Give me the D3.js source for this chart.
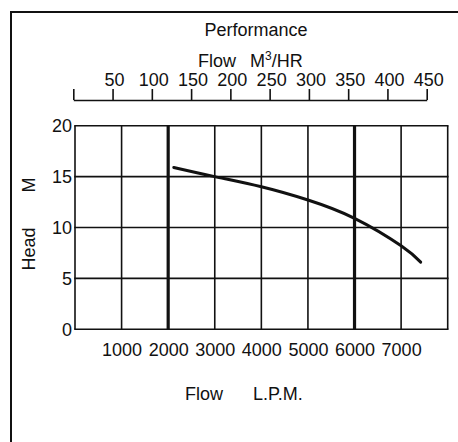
<!DOCTYPE html>
<html>
<head>
<meta charset="utf-8">
<script src="https://cdn.jsdelivr.net/npm/d3@7"></script>
<style>
  body { margin: 0; background: #fff; }
  svg { display: block; }
  text { font-family: "Liberation Sans", Arial, sans-serif; fill: #111; }
</style>
</head>
<body>
<svg id="chart" width="458" height="442"></svg>
<script>
// Data
const flowLpm = [2120, 3000, 4000, 5000, 6000, 7000, 7420];
const headM = [15.9, 15.0, 14.0, 12.7, 10.9, 8.2, 6.6];

const lpmTicks = [1000, 2000, 3000, 4000, 5000, 6000, 7000];
const lpmGrid = [0, 1000, 2000, 3000, 4000, 5000, 6000, 7000, 8000];
const lpmHeavy = [2000, 6000];
const headTicks = [0, 5, 10, 15, 20];
const m3hrTicks = [0, 50, 100, 150, 200, 250, 300, 350, 400, 450];

const FONT_PX = 18;

function draw() {
  const svg = d3.select('#chart');

  // Frame: only top and left edges are visible
  svg.append('path')
      .attr('d', 'M11,442V12H458')
      .attr('fill', 'none')
      .attr('stroke', '#111')
      .attr('stroke-width', 2);

  const x = d3.scaleLinear().domain([0, 8000]).range([75, 447.7]);
  const y = d3.scaleLinear().domain([0, 20]).range([329.3, 125.7]);
  const xTop = d3.scaleLinear().domain([0, 450]).range([73.3, 426.7]);

  // Grid
  const grid = svg.append('g');
  grid.selectAll('line.v')
    .data(lpmGrid)
    .join('line')
      .attr('class', 'v')
      .attr('x1', d => x(d)).attr('x2', d => x(d))
      .attr('y1', y(0)).attr('y2', y(20))
      .attr('stroke', '#111')
      .attr('stroke-width', d => lpmHeavy.includes(d) ? 3.2 : 1.6);
  grid.selectAll('line.h')
    .data(headTicks)
    .join('line')
      .attr('class', 'h')
      .attr('x1', x(0) - 0.8).attr('x2', x(8000) + 0.8)
      .attr('y1', d => y(d)).attr('y2', d => y(d))
      .attr('stroke', '#111')
      .attr('stroke-width', 1.6);

  // Left axis labels
  const left = svg.append('g')
      .attr('transform', 'translate(' + x(0) + ',0)')
      .call(d3.axisLeft(y).tickValues(headTicks).tickSize(0).tickPadding(3));
  left.select('.domain').remove();
  left.selectAll('text')
      .attr('font-size', FONT_PX)
      .style('font-family', '"Liberation Sans", Arial, sans-serif')
      .attr('fill', '#111');

  // Bottom axis labels
  const bottom = svg.append('g')
      .attr('transform', 'translate(0,' + y(0) + ')')
      .call(d3.axisBottom(x).tickValues(lpmTicks).tickSize(0).tickPadding(14)
        .tickFormat(d3.format('d')));
  bottom.select('.domain').remove();
  bottom.selectAll('text')
      .attr('font-size', FONT_PX)
      .style('font-family', '"Liberation Sans", Arial, sans-serif')
      .attr('fill', '#111');

  // Top axis in M3/HR
  const top = svg.append('g')
      .attr('transform', 'translate(0,100)')
      .call(d3.axisTop(xTop).tickValues(m3hrTicks).tickSize(11).tickSizeOuter(0)
        .tickPadding(3).tickFormat(d => d === 0 ? '' : d));
  top.select('.domain').attr('stroke', '#111').attr('stroke-width', 1.6);
  top.selectAll('.tick line').attr('stroke', '#111').attr('stroke-width', 1.6);
  top.selectAll('text')
      .attr('font-size', FONT_PX)
      .attr('dx', 1.5)
      .style('font-family', '"Liberation Sans", Arial, sans-serif')
      .attr('fill', '#111');

  // Performance curve
  const pts = flowLpm.map((f, i) => [f, headM[i]]);
  const line = d3.line()
      .x(d => x(d[0]))
      .y(d => y(d[1]))
      .curve(d3.curveNatural);
  svg.append('path')
      .attr('d', line(pts))
      .attr('fill', 'none')
      .attr('stroke', '#111')
      .attr('stroke-width', 3)
      .attr('stroke-linecap', 'round');

  // Titles
  svg.append('text')
      .attr('x', 256).attr('y', 36)
      .attr('text-anchor', 'middle')
      .attr('font-size', FONT_PX)
      .text('Performance');

  const topTitle = svg.append('text')
      .attr('y', 67)
      .attr('font-size', FONT_PX);
  topTitle.append('tspan').attr('x', 198).text('Flow');
  topTitle.append('tspan').attr('x', 250).text('M');
  topTitle.append('tspan').attr('dy', -7).attr('font-size', 12).text('3');
  topTitle.append('tspan').attr('dy', 7).text('/HR');

  const bottomTitle = svg.append('text')
      .attr('y', 400)
      .attr('font-size', FONT_PX);
  bottomTitle.append('tspan').attr('x', 185).text('Flow');
  bottomTitle.append('tspan').attr('x', 253).text('L.P.M.');

  svg.append('text')
      .attr('transform', 'translate(35,249) rotate(-90)')
      .attr('text-anchor', 'middle')
      .attr('font-size', FONT_PX)
      .text('Head');
  svg.append('text')
      .attr('transform', 'translate(35,185) rotate(-90)')
      .attr('text-anchor', 'middle')
      .attr('font-size', FONT_PX)
      .text('M');
}

draw();
</script>
</body>
</html>
